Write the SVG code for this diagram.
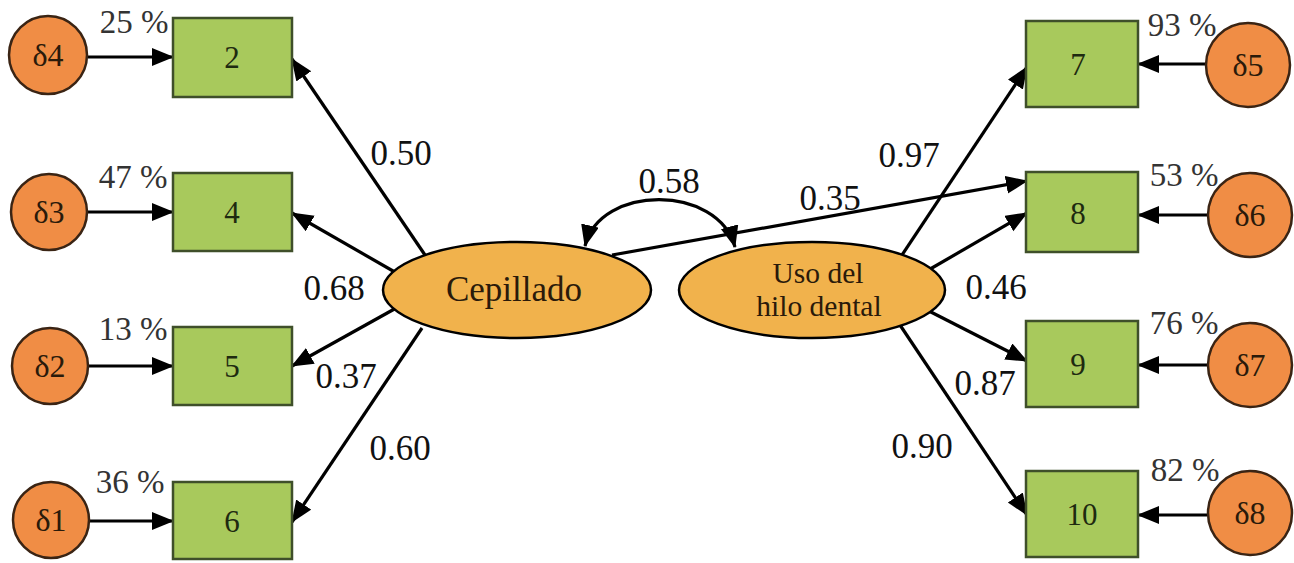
<svg xmlns="http://www.w3.org/2000/svg" width="1294" height="563" viewBox="0 0 1294 563">
<defs>
<marker id="ah" markerUnits="userSpaceOnUse" markerWidth="24" markerHeight="20" refX="21" refY="9" orient="auto-start-reverse">
<path d="M0,0 L22,9 L0,18 z" fill="#000"/>
</marker>
<style>
.box{fill:#a8c95c;stroke:#3f4f2a;stroke-width:2.5}
.err{fill:#f08d45;stroke:#3a2414;stroke-width:2.5}
.lat{fill:#f1b24c;stroke:#000;stroke-width:2.5}
.c{stroke:#000;stroke-width:3.2;fill:none;marker-end:url(#ah)}
.t{text-anchor:middle}
.lbl{font-size:35px;fill:#111}
.pct{font-size:33px;fill:#333}
.nt{font-size:31px;fill:#1e2a10}
.et{font-size:32px;fill:#2a1a0a}
.lt{fill:#2a1a0a}
</style>
</defs>
<rect width="1294" height="563" fill="#fff"/>
<g id="connectors">
<line class="c" x1="88" y1="57" x2="173" y2="57"/>
<line class="c" x1="88" y1="212" x2="173" y2="212"/>
<line class="c" x1="88" y1="366" x2="173" y2="366"/>
<line class="c" x1="88" y1="521" x2="173" y2="521"/>
<line class="c" x1="1207" y1="64" x2="1138" y2="64"/>
<line class="c" x1="1207" y1="215" x2="1138" y2="215"/>
<line class="c" x1="1207" y1="365" x2="1138" y2="365"/>
<line class="c" x1="1207" y1="515" x2="1138" y2="515"/>
<line class="c" x1="425" y1="255" x2="292" y2="59"/>
<line class="c" x1="400" y1="275" x2="292" y2="213"/>
<line class="c" x1="398" y1="307" x2="292" y2="366"/>
<line class="c" x1="422" y1="328" x2="292" y2="522"/>
<line class="c" x1="900" y1="258" x2="1027" y2="67"/>
<line class="c" x1="925" y1="272" x2="1027" y2="213"/>
<line class="c" x1="925" y1="309" x2="1027" y2="361"/>
<line class="c" x1="900" y1="325" x2="1027" y2="515"/>
<line class="c" x1="612" y1="255" x2="1027" y2="181"/>
<path class="c" style="marker-start:url(#ah)" d="M585,246 C600,184 718,184 735,247"/>
</g>
<g font-family="'Liberation Serif', 'Times New Roman', Tinos, 'DejaVu Serif', serif">
<g id="n2"><rect class="box" x="173" y="18" width="119" height="79"/><text class="t nt" x="232" y="68">2</text></g>
<g id="n4"><rect class="box" x="173" y="173" width="119" height="78"/><text class="t nt" x="232" y="223">4</text></g>
<g id="n5"><rect class="box" x="173" y="327" width="119" height="78"/><text class="t nt" x="232" y="377">5</text></g>
<g id="n6"><rect class="box" x="173" y="482" width="119" height="77"/><text class="t nt" x="232" y="532">6</text></g>
<g id="n7"><rect class="box" x="1026" y="21" width="112" height="86"/><text class="t nt" x="1078" y="75">7</text></g>
<g id="n8"><rect class="box" x="1026" y="172" width="112" height="80"/><text class="t nt" x="1078" y="224">8</text></g>
<g id="n9"><rect class="box" x="1026" y="321" width="112" height="86"/><text class="t nt" x="1078" y="375">9</text></g>
<g id="n10"><rect class="box" x="1026" y="471" width="112" height="86"/><text class="t nt" x="1082" y="525">10</text></g>
<g id="d4"><circle class="err" cx="48" cy="55" r="39"/><text class="t et" x="48" y="66">δ4</text></g>
<g id="d3"><circle class="err" cx="49" cy="212" r="38"/><text class="t et" x="49" y="223">δ3</text></g>
<g id="d2"><circle class="err" cx="50" cy="366" r="38"/><text class="t et" x="50" y="377">δ2</text></g>
<g id="d1"><circle class="err" cx="51" cy="520" r="38"/><text class="t et" x="51" y="531">δ1</text></g>
<g id="d5"><circle class="err" cx="1248" cy="65" r="42"/><text class="t et" x="1248" y="76">δ5</text></g>
<g id="d6"><circle class="err" cx="1250" cy="215" r="42"/><text class="t et" x="1250" y="226">δ6</text></g>
<g id="d7"><circle class="err" cx="1250" cy="365" r="42"/><text class="t et" x="1250" y="376">δ7</text></g>
<g id="d8"><circle class="err" cx="1250" cy="513" r="42"/><text class="t et" x="1250" y="524">δ8</text></g>
<g id="cepillado"><ellipse class="lat" cx="517" cy="290" rx="134" ry="48"/><text class="t lt" x="514" y="301" font-size="35">Cepillado</text></g>
<g id="hilo"><ellipse class="lat" cx="812" cy="290" rx="133" ry="48"/><text class="t lt" x="818" y="283" font-size="29.5">Uso del</text><text class="t lt" x="819" y="316" font-size="29.5">hilo dental</text></g>
<g id="labels">
<text class="t lbl" x="401" y="165">0.50</text>
<text class="t lbl" x="334" y="300">0.68</text>
<text class="t lbl" x="346" y="388">0.37</text>
<text class="t lbl" x="400" y="460">0.60</text>
<text class="t lbl" x="669" y="193">0.58</text>
<text class="t lbl" x="830" y="210">0.35</text>
<text class="t lbl" x="909" y="167">0.97</text>
<text class="t lbl" x="996" y="299">0.46</text>
<text class="t lbl" x="985" y="395">0.87</text>
<text class="t lbl" x="922" y="458">0.90</text>
<text class="t pct" x="134" y="33">25 %</text>
<text class="t pct" x="133" y="188">47 %</text>
<text class="t pct" x="133" y="340">13 %</text>
<text class="t pct" x="130" y="493">36 %</text>
<text class="t pct" x="1182" y="36">93 %</text>
<text class="t pct" x="1184" y="186">53 %</text>
<text class="t pct" x="1184" y="334">76 %</text>
<text class="t pct" x="1185" y="481">82 %</text>
</g>
</g>
</svg>
